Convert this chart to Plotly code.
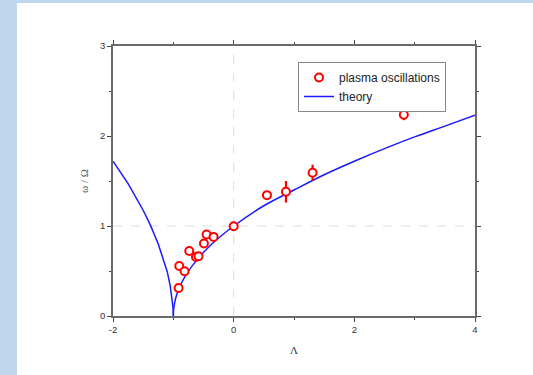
import plotly.graph_objects as go

# Experimental data: plasma oscillations
lam_exp = [-0.913, -0.902, -0.814, -0.736, -0.625, -0.582, -0.493, -0.449, -0.333, 0.0, 0.552, 0.867, 1.308, 2.82]
omega_exp = [0.311, 0.556, 0.497, 0.723, 0.656, 0.664, 0.805, 0.905, 0.879, 0.998, 1.343, 1.380, 1.591, 2.236]
omega_err = [0.02, 0.02, 0.02, 0.02, 0.02, 0.02, 0.02, 0.02, 0.02, 0.02, 0.03, 0.12, 0.09, 0.06]

# Theory curve, two branches meeting at the cusp
lam_th_left = [-2.0, -1.75, -1.5, -1.38, -1.25, -1.15, -1.1, -1.05, -1.02, -1.005, -1.0]
omega_th_left = [1.72, 1.47, 1.175, 1.01, 0.80, 0.61, 0.49, 0.33, 0.20, 0.09, 0.0]
lam_th_right = [-1.0, -0.995, -0.98, -0.95, -0.9, -0.8, -0.6, -0.4, -0.2, 0.0, 0.5, 1.0, 1.5, 2.0, 2.5, 3.0, 3.5, 4.0]
omega_th_right = [0.0, 0.07, 0.14, 0.224, 0.316, 0.447, 0.632, 0.775, 0.894, 1.0, 1.225, 1.40, 1.57, 1.72, 1.86, 1.99, 2.11, 2.23]

x_ticks = [-2, 0, 2, 4]
y_ticks = [0, 1, 2, 3]
ref_x = 0
ref_y = 1

fig = go.Figure()

fig.add_trace(go.Scatter(
    x=lam_th_left, y=omega_th_left, mode="lines", line=dict(color="#1a1aff", width=1.5),
    showlegend=False, hoverinfo="skip"))
fig.add_trace(go.Scatter(
    x=lam_th_right, y=omega_th_right, mode="lines", line=dict(color="#1a1aff", width=1.5, shape="spline"),
    name="theory", showlegend=True))
fig.add_trace(go.Scatter(
    x=lam_exp, y=omega_exp, mode="markers", name="plasma oscillations",
    marker=dict(symbol="circle", size=8, color="white", line=dict(color="#ff0000", width=2)),
    error_y=dict(type="data", array=omega_err, color="#ff0000", thickness=2.2, width=0)))

axis_common = dict(
    showline=True, linecolor="#6a6a6a", linewidth=1.5, mirror="allticks",
    ticks="outside", ticklen=4, tickwidth=1.2, tickcolor="#444",
    showgrid=False, zeroline=False, automargin=False,
    tickfont=dict(family="Liberation Sans, Arial", size=9.5, color="#333"),
    minor=dict(ticks="outside", ticklen=2, tickwidth=1, tickcolor="#444", showgrid=False),
)

fig.update_xaxes(range=[-2, 4], tickvals=x_ticks, ticktext=[str(v) for v in x_ticks],
                 minor_dtick=1, minor_tick0=-2,
                 title=dict(text="Λ", font=dict(family="Liberation Serif, Times New Roman", size=11, color="#333"), standoff=12),
                 **axis_common)
fig.update_yaxes(range=[0, 3], tickvals=y_ticks, ticktext=[str(v) for v in y_ticks],
                 minor_dtick=0.5, minor_tick0=0,
                 title=dict(text="ω / Ω", font=dict(family="Liberation Serif, Times New Roman", size=11, color="#555"), standoff=9),
                 **axis_common)

W, H = 533, 375
L, R, T, B = 113, 58, 46, 59
PW, PH = W - L - R, H - T - B

shapes = [
    dict(type="line", xref="x", yref="paper", x0=ref_x, x1=ref_x, y0=0, y1=1,
         line=dict(color="#dddddd", width=1, dash="dash"), layer="below"),
    dict(type="line", xref="paper", yref="paper", x0=0, x1=1, y0=ref_y / 3, y1=ref_y / 3,
         line=dict(color="#dddddd", width=1, dash="dash"), layer="below"),
    # slide background bands
    dict(type="rect", xref="paper", yref="paper", x0=-L / PW, x1=(17 - L) / PW, y0=-B / PH, y1=(H - B) / PH,
         fillcolor="#c0d8ee", line=dict(width=0), layer="below"),
    dict(type="rect", xref="paper", yref="paper", x0=-L / PW, x1=(W - L) / PW, y0=(H - B - 3) / PH, y1=(H - B) / PH,
         fillcolor="#c0d8ee", line=dict(width=0), layer="below"),
]

fig.update_layout(
    width=W, height=H,
    margin=dict(l=L, r=R, t=T, b=B, autoexpand=False),
    paper_bgcolor="white", plot_bgcolor="white",
    shapes=shapes,
    legend=dict(x=(298 - L) / PW, y=(H - B - 62) / PH, xanchor="left", yanchor="top",
                bgcolor="white", bordercolor="#888", borderwidth=1,
                font=dict(family="Liberation Sans, Arial", size=12, color="#222"),
                tracegroupgap=0, traceorder="reversed", itemwidth=30),
    showlegend=True,
)

fig.write_html("out.html", config={"displayModeBar": False},
               post_script="document.body.style.margin='0px';document.body.style.overflow='hidden';")
